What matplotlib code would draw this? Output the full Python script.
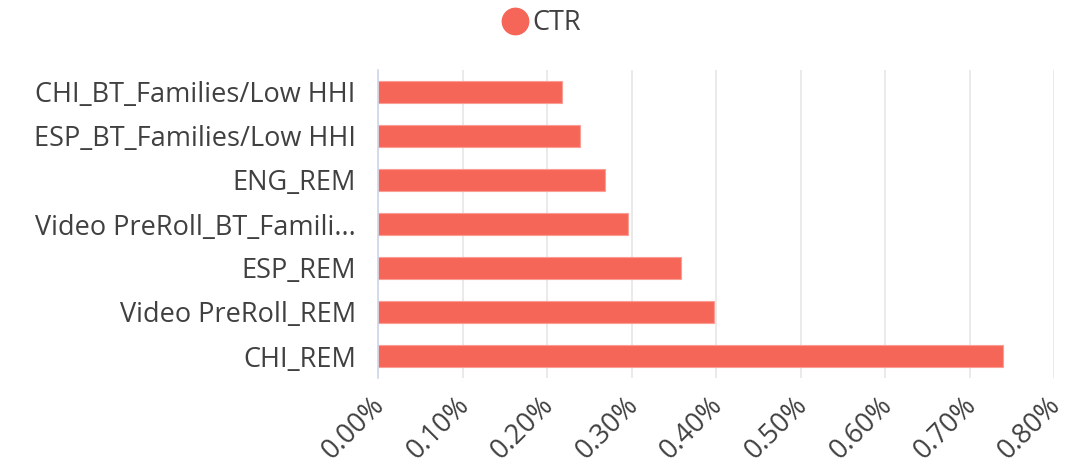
import matplotlib
matplotlib.use("Agg")
import matplotlib.pyplot as plt
import matplotlib.transforms as mtransforms
from matplotlib.ticker import FuncFormatter, MultipleLocator
from matplotlib.lines import Line2D

categories = ["CHI_BT_Families/Low HHI", "ESP_BT_Families/Low HHI", "ENG_REM",
              "Video PreRoll_BT_Famili...", "ESP_REM", "Video PreRoll_REM", "CHI_REM"]
ctr = [0.218, 0.239, 0.269, 0.296, 0.359, 0.398, 0.740]
series_name = "CTR"

plt.rcParams['font.family'] = ['Open Sans', 'DejaVu Sans']
bar_color = "#F66658"
text_color = "#404040"
fs = 19.5

fig = plt.figure(figsize=(10.71, 4.66), dpi=100)
ax = fig.add_axes([378/1071, 1-378/466, (1054-378)/1071, (378-70)/466])

y = list(range(len(categories)))
ax.barh(y, ctr, height=0.48, color=bar_color, edgecolor="#FA9D94", linewidth=0.8, zorder=3)
ax.set_ylim(len(categories) - 0.5, -0.5)
ax.set_yticks(y)
ax.set_yticklabels(categories, fontsize=fs, color=text_color)
ax.set_xlim(0, 0.8)
ax.xaxis.set_major_locator(MultipleLocator(0.1))
ax.xaxis.set_major_formatter(FuncFormatter(lambda v, p: f"{v:.2f}%"))
ax.grid(axis='x', color="#E6E6E6", linewidth=1.2, zorder=0)
ax.tick_params(axis='both', length=0)
ax.tick_params(axis='y', pad=16)
ax.tick_params(axis='x', pad=17)
offset = mtransforms.ScaledTranslation(3/100, 0, fig.dpi_scale_trans)
for lbl in ax.get_xticklabels():
    lbl.set_rotation(45)
    lbl.set_ha('right')
    lbl.set_va('center')
    lbl.set_rotation_mode('anchor')
    lbl.set_fontsize(fs)
    lbl.set_color(text_color)
    lbl.set_transform(lbl.get_transform() + offset)
for s in ['top', 'right', 'bottom']:
    ax.spines[s].set_visible(False)
ax.spines['left'].set_color("#CCD6EB")
ax.spines['left'].set_linewidth(1.2)
ax.spines['left'].set_zorder(4)

handle = Line2D([], [], marker='o', linestyle='', markersize=19, color=bar_color)
fig.legend([handle], [series_name], loc='center', bbox_to_anchor=(541/1071, 1-23/466),
           frameon=False, fontsize=fs, handletextpad=0.15, labelcolor=text_color,
           handlelength=1.0)

fig.savefig("out.png", dpi=100)
